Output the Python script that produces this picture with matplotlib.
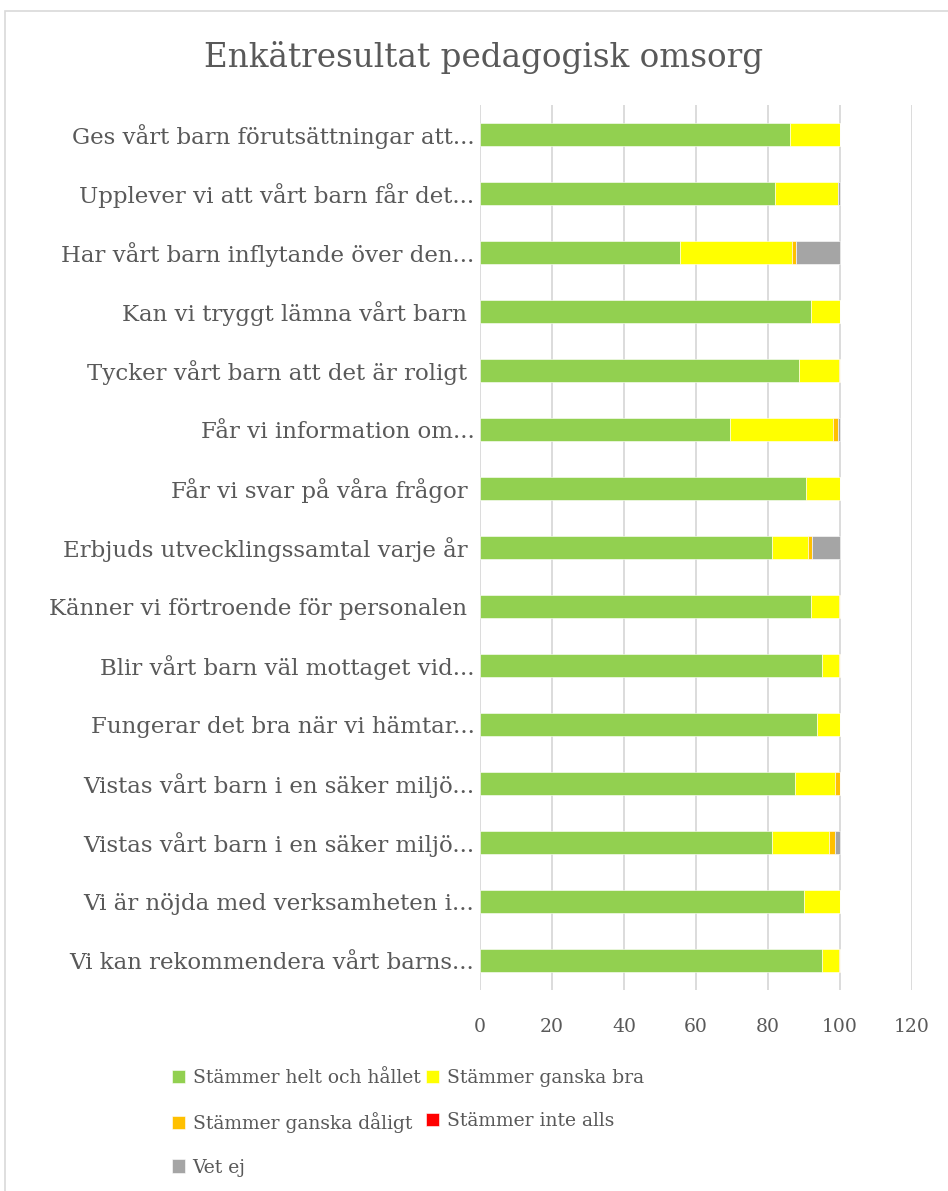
import matplotlib.pyplot as plt
from matplotlib.patches import Rectangle
import numpy as np

questions = [
    "Ges vårt barn förutsättningar att...",
    "Upplever vi att vårt barn får det...",
    "Har vårt barn inflytande över den...",
    "Kan vi tryggt lämna vårt barn ",
    "Tycker vårt barn att det är roligt ",
    "Får vi information om...",
    "Får vi svar på våra frågor ",
    "Erbjuds utvecklingssamtal varje år ",
    "Känner vi förtroende för personalen ",
    "Blir vårt barn väl mottaget vid...",
    "Fungerar det bra när vi hämtar...",
    "Vistas vårt barn i en säker miljö...",
    "Vistas vårt barn i en säker miljö...",
    "Vi är nöjda med verksamheten i...",
    "Vi kan rekommendera vårt barns...",
]

helt = [86, 82, 55.6, 92, 88.5, 69.5, 90.5, 81, 92, 95, 93.5, 87.5, 81, 90, 95]
ganska_bra = [14, 17.5, 31.2, 8, 11.2, 28.5, 9.5, 10, 7.7, 4.7, 6.5, 11, 16, 10, 4.7]
ganska_daligt = [0, 0, 1.1, 0, 0.3, 1.5, 0, 1.2, 0.3, 0.3, 0, 1.5, 1.5, 0, 0.3]
inte_alls = [0] * 15
vet_ej = [0, 0.5, 12.1, 0, 0, 0.5, 0, 7.8, 0, 0, 0, 0, 1.5, 0, 0]

series = [
    ("Stämmer helt och hållet", helt, "#92D050"),
    ("Stämmer ganska bra", ganska_bra, "#FFFF00"),
    ("Stämmer ganska dåligt", ganska_daligt, "#FFC000"),
    ("Stämmer inte alls", inte_alls, "#FF0000"),
    ("Vet ej", vet_ej, "#A5A5A5"),
]

txt = "#595959"
font = "DejaVu Serif"

fig = plt.figure(figsize=(9.48, 11.91), dpi=100)
fig.patches.append(Rectangle((5 / 948, -0.1), 1.2, 1 - 11 / 1191 + 0.1,
                             transform=fig.transFigure, fill=False,
                             edgecolor="#D9D9D9", linewidth=1.2))

ax = fig.add_axes([480 / 948, 1 - 990 / 1191, 432 / 948, 885 / 1191])

y = np.arange(len(questions))
left = np.zeros(len(questions))
handles = []
for name, vals, col in series:
    vals = np.array(vals, dtype=float)
    h = ax.barh(y, vals, left=left, height=0.4, color=col, label=name,
                edgecolor="white", linewidth=0.4)
    handles.append(h)
    left += vals

ax.set_xlim(0, 120)
ax.set_ylim(len(questions) - 0.5, -0.5)
ax.set_xticks(range(0, 121, 20))
ax.set_yticks(y)
ax.set_yticklabels(questions, fontfamily=font, fontsize=16.5, color=txt)
for lbl in ax.get_xticklabels():
    lbl.set_fontfamily(font)
    lbl.set_fontsize(13.5)
    lbl.set_color(txt)
ax.tick_params(length=0)
ax.tick_params(axis="y", pad=4)
ax.tick_params(axis="x", pad=20)
ax.grid(axis="x", color="#D9D9D9", linewidth=1.3)
ax.set_axisbelow(True)
for s in ax.spines.values():
    s.set_visible(False)

fig.text(484 / 948, 1 - 58 / 1191, "Enkätresultat pedagogisk omsorg",
         ha="center", va="center", fontsize=23.5, fontfamily=font, color=txt)

order = [0, 2, 4, 1, 3]
fig.legend([handles[i] for i in order], [series[i][0] for i in order],
           ncol=2, loc="upper left", bbox_to_anchor=(172 / 948, 1 - 1069 / 1191),
           frameon=False, prop={"family": font, "size": 13.5},
           labelcolor=txt, handlelength=0.7, handleheight=0.7,
           handletextpad=0.4, columnspacing=0.3, labelspacing=1.35,
           borderaxespad=0, borderpad=0)

fig.savefig("out.png", dpi=100)
